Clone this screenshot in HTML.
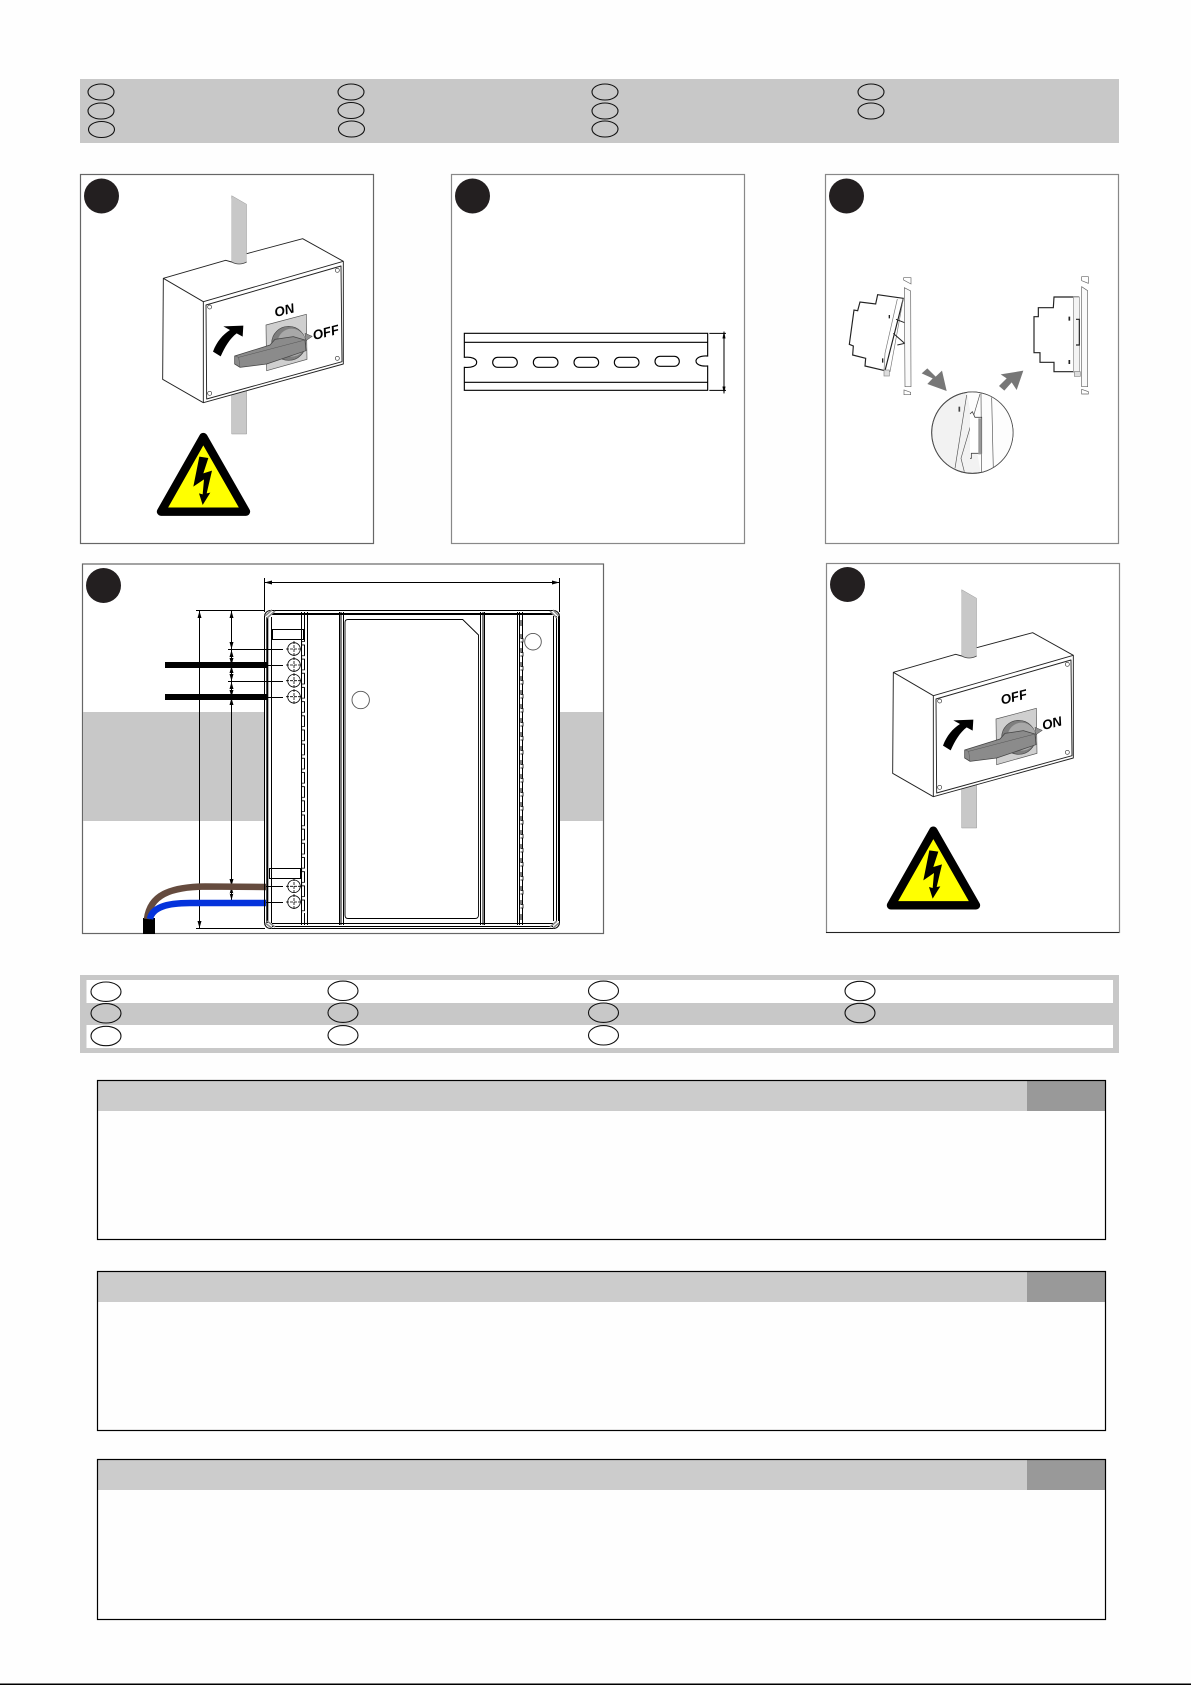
<!DOCTYPE html>
<html><head><meta charset="utf-8"><style>html,body{margin:0;padding:0;background:#fff}svg{display:block}</style></head><body>
<svg xmlns="http://www.w3.org/2000/svg" width="1191" height="1685" viewBox="0 0 1191 1685">
<defs>
<clipPath id="cc"><circle cx="487" cy="818" r="122"/></clipPath>
<pattern id="tl" patternUnits="userSpaceOnUse" x="300.5" y="641" width="5" height="14.17"><path d="M4.5 .5H1.2V4H4.5" fill="#fff" stroke="#000" stroke-width=".8"/></pattern>
<pattern id="tr" patternUnits="userSpaceOnUse" x="520" y="638" width="5" height="14"><path d="M.5 .5H3V4H.5" fill="#fff" stroke="#000" stroke-width=".8"/></pattern>
<g id="box">
<path d="M515 407L560 433V612H515Z" fill="#c8c8c8" stroke="#999" stroke-width="1.5"/>
<path d="M515 970H560V1122H515Z" fill="#c8c8c8" stroke="#999" stroke-width="1.5"/>
<path d="M310 655L497 601 515 606Q537 618 560 606V581L728 536 850 604V912L430 1028 308 958Z" fill="#fff"/>
<path d="M515 415V606H560V433Z" fill="#c8c8c8"/>
<path d="M515 606Q537 618 560 606" fill="#c8c8c8" stroke="#444" stroke-width="2.4"/>
<g fill="none" stroke="#222" stroke-width="2.8" stroke-linejoin="round">
<path d="M310 655L497 601 515 606M560 581L728 536 850 604V912L430 1028 308 958 310 655 430 725V1028"/>
<path d="M430 725L850 604M438 735L843 618 846 905 440 1017Z"/>
</g>
<g fill="#fff" stroke="#333" stroke-width="2"><circle cx="449" cy="741" r="6"/><circle cx="832" cy="631" r="6"/><circle cx="832" cy="895" r="6"/><circle cx="449" cy="1000" r="6"/></g>
<path d="M459 875C470 845 488 824 510 810L490 799 550 797 548 830 530 820C510 835 495 860 482 889Z" fill="#000"/>
<path d="M618 795L739 763 741 898 620 932Z" fill="#cfcfcf" stroke="#555" stroke-width="2"/>
<path d="M735 820L757 829 738 842Z" fill="#8f8f8f" stroke="#444" stroke-width="1.5"/>
<circle cx="686" cy="850" r="51" fill="#7e7e7e" stroke="#444" stroke-width="2"/>
<circle cx="695" cy="848" r="42" fill="#a8a8a8"/>
<path d="M524 888L630 855 645 838 700 830 735 840 738 872 620 912 540 922 524 912Z" fill="#8b8b8b" stroke="#444" stroke-width="2.2"/>
<path d="M524 888L536 892 540 922M536 892L735 840" fill="none" stroke="#555" stroke-width="1.5"/>
</g>
<g id="warn">
<path d="M430 1131L303 1355H558Z" fill="#ff0" stroke="#000" stroke-width="25" stroke-linejoin="round"/>
<path d="M418 1190L445 1194 430 1240 456 1232 440 1300 451 1298 428 1335 417 1300 428 1303 432 1258 400 1280Z" fill="#000"/>
</g>
</defs>
<rect width="1191" height="1685" fill="#fefefe"/>

<!-- top legend -->
<rect x="80" y="79" width="1039" height="64" fill="#c8c8c8"/>
<g fill="none" stroke="#111" stroke-width="1.1">
<ellipse cx="101" cy="92" rx="13" ry="8"/><ellipse cx="101" cy="111" rx="13" ry="8"/><ellipse cx="101.5" cy="129.5" rx="13" ry="8"/>
<ellipse cx="351" cy="92" rx="13" ry="8"/><ellipse cx="351" cy="110.5" rx="13" ry="8"/><ellipse cx="351.5" cy="129" rx="13" ry="8"/>
<ellipse cx="605" cy="92" rx="13" ry="8"/><ellipse cx="605" cy="111" rx="13" ry="8"/><ellipse cx="605" cy="129" rx="13" ry="8"/>
<ellipse cx="871" cy="92" rx="13" ry="8"/><ellipse cx="871" cy="111" rx="13" ry="8"/>
</g>

<!-- panels -->
<rect x="80.5" y="174.5" width="293" height="369" fill="#fff" stroke="#666" stroke-width="1.2"/>
<rect x="451.5" y="174.5" width="293" height="369" fill="#fff" stroke="#888" stroke-width="1.2"/>
<rect x="825.5" y="174.5" width="293" height="369" fill="#fff" stroke="#888" stroke-width="1.2"/>
<rect x="82.5" y="564" width="521" height="369.5" fill="#fff" stroke="#666" stroke-width="1.2"/>
<rect x="826.5" y="563.5" width="293" height="369" fill="#fff" stroke="#888" stroke-width="1.2"/>
<path d="M826 932.5H1119" stroke="#222" stroke-width="1"/>
<g fill="#231f20"><circle cx="101.5" cy="196" r="17.5"/><circle cx="472.5" cy="196" r="17.5"/><circle cx="846.5" cy="196" r="17.5"/><circle cx="103.5" cy="585.5" r="17.5"/><circle cx="847.5" cy="584.5" r="17.5"/></g>

<!-- panel 1 -->
<g transform="translate(60 60) scale(.33333)">
<use href="#box"/><use href="#warn"/>
<text x="647" y="771" transform="rotate(-14 647 771)" font-family="Liberation Sans, sans-serif" font-size="40" font-weight="bold" font-style="italic" fill="#000">ON</text>
<text x="762" y="840" transform="rotate(-14 762 840)" font-family="Liberation Sans, sans-serif" font-size="40" font-weight="bold" font-style="italic" fill="#000">OFF</text>
</g>

<!-- panel 5 -->
<g transform="translate(790 454) scale(.33333)">
<use href="#box"/><use href="#warn" y="-1"/>
<text x="636" y="752" transform="rotate(-14 636 752)" font-family="Liberation Sans, sans-serif" font-size="40" font-weight="bold" font-style="italic" fill="#000">OFF</text>
<text x="760" y="828" transform="rotate(-14 760 828)" font-family="Liberation Sans, sans-serif" font-size="40" font-weight="bold" font-style="italic" fill="#000">ON</text>
</g>

<!-- panel 2 rail -->
<g transform="translate(440 160) scale(.33333)" fill="none" stroke="#000" stroke-width="3.4">
<path d="M73 520H803V588C780 586 768 595 768 603C768 612 780 620 803 618V691H73V622C95 624 110 618 110 607C110 596 95 590 73 592Z"/>
<path d="M73 547H803M73 667H803"/>
<rect x="158" y="592" width="74" height="30" rx="15"/><rect x="280" y="592" width="74" height="30" rx="15"/><rect x="402" y="592" width="74" height="30" rx="15"/><rect x="523" y="592" width="74" height="30" rx="15"/><rect x="645" y="589" width="73" height="30" rx="15"/>
<path d="M808 520H858M808 691H858M852 515V700" stroke-width="3"/>
<path d="M852 515L848 535H856ZM852 700L848 680H856Z" fill="#000" stroke-width="1"/>
</g>

<!-- panel 3 -->
<g transform="translate(810 160) scale(.33333)" fill="none" stroke="#222" stroke-width="3">
<path d="M203 404L280 415 225 632 165 618 167 595 128 585 130 558 118 553 132 450 143 452 150 426 197 432Z" fill="#fff" stroke-width="3.5"/>
<path d="M262 417L225 580 222 632M280 415L240 635H225" stroke="#777" stroke-width="2"/>
<path d="M258 478L284 488M250 520L284 550 262 555" stroke-width="3"/>
<rect x="222" y="630" width="16" height="18" fill="#ddd" stroke="#888" stroke-width="2"/>
<path d="M238 465V475M218 595V608" stroke-width="4"/>
<path d="M283 383L302 393 303 680 285 680Z" stroke="#666" stroke-width="2" fill="#fafafa"/>
<path d="M281 353H303V372L281 360ZM282 690L302 697V704H282Z" stroke="#666" stroke-width="2" fill="#fff"/>
<path d="M732 411H805V635H732V607H690V578H672V470H685V443H730Z" fill="#fff" stroke-width="3.5"/>
<path d="M790 411V635H808V411Z" stroke="#888" stroke-width="2" fill="#f4f4f4"/>
<path d="M798 478H808V555H798" stroke-width="3.5"/>
<path d="M778 470V482M778 600V612" stroke-width="5"/>
<rect x="793" y="635" width="18" height="14" fill="#ddd" stroke="#888" stroke-width="2"/>
<path d="M815 380L833 392V680H815Z" stroke="#666" stroke-width="2" fill="#fafafa"/>
<path d="M815 350H835V370L815 362ZM815 688L835 695V702H815Z" stroke="#666" stroke-width="2" fill="#fff"/>
<path d="M335 640L352 625 377 650 396 632 410 693 352 672 368 655Z" fill="#777" stroke="none"/>
<path d="M640 632L620 690 605 667 583 692 567 678 590 655 572 643Z" fill="#777" stroke="none"/>
<circle cx="487" cy="818" r="122" fill="#f2f2f2"/>
<g clip-path="url(#cc)">
<path d="M470 690H620V950H514Z" fill="#fdfdfd" stroke="none"/>
<path d="M470 705L435 925M510 702L453 895 463 935M513 700L515 940M545 712L550 930" stroke="#555" stroke-width="2"/>
<path d="M480 762L487 755 495 772H515V880H484V895H480" stroke="#444" stroke-width="2.5" fill="#fff"/>
<rect x="505" y="775" width="10" height="108" fill="#999" stroke="none"/>
</g>
<circle cx="487" cy="818" r="122" stroke="#555" stroke-width="2"/>
<path d="M448 740V755" stroke="#444" stroke-width="5"/>
</g>

<!-- panel 4 -->
<rect x="83" y="712" width="181" height="109" fill="#c8c8c8"/>
<rect x="559.5" y="712" width="43.5" height="109" fill="#c8c8c8"/>
<g fill="none" stroke="#000" stroke-width="1">
<path d="M264.5 578V612M559.5 578V612M264.5 582.5H559.5"/>
<path d="M196 610.5H265M196 928.5H265M199.5 610V929M231.5 610V900"/>
<path d="M228 649.5H283M228 681.5H283M266 665.5H283M266 697.5H283M266 886.5H283M266 902.5H283"/>
</g>
<g fill="#000">
<path d="M264.5 582.5L272 580.5V584.5ZM559.5 582.5L552 580.5V584.5Z"/>
<path d="M199.5 611L197.5 618H201.5ZM199.5 928L197.5 921H201.5Z"/>
<path d="M231.5 611L229.5 618H233.5ZM231.5 649L229.5 642H233.5ZM231.5 650L229.5 657H233.5ZM231.5 665L229.5 658H233.5ZM231.5 666L229.5 673H233.5ZM231.5 681L229.5 674H233.5ZM231.5 682L229.5 689H233.5ZM231.5 697L229.5 690H233.5ZM231.5 698L229.5 705H233.5ZM231.5 886L229.5 879H233.5ZM231.5 887L229.5 894H233.5ZM231.5 900L229.5 893H233.5Z"/>
<rect x="165" y="662" width="102" height="6"/><rect x="165" y="694" width="102" height="6"/>
<rect x="143" y="918" width="12" height="16"/>
</g>
<path d="M266 887L205 886.5C170 887 150 895 147 919" fill="none" stroke="#654b3e" stroke-width="6.5"/>
<path d="M266 903L190 903C165 903 152 908 150 919" fill="none" stroke="#0433dc" stroke-width="6.5"/>
<g fill="none" stroke="#000" stroke-width="1">
<rect x="264.5" y="610.5" width="295" height="318" rx="6"/>
<path d="M267.3 617V923" stroke-width="2"/><path d="M271.5 617V923"/>
<path d="M272 610.5H553M272 613.5H553M272 614.5H553M272 923.5H553M272 926.5H553"/>
<path d="M301.5 612V925M304.5 612V925M307.5 612V925M339.5 612V925M341 612V925M343.5 612V925"/>
<path d="M480.5 612V925M483 612V925M484.5 612V925M517.5 612V925M519.5 612V925M522.5 612V925"/>
<path d="M553.5 616V921M556.5 616V921M558.5 616V921"/>
<path d="M348 619.5H462.7L478.5 635V915Q478.5 918.5 475 918.5H348Q345 918.5 345 915V622.5Q345 619.5 348 619.5Z" stroke-width=".9"/>
<rect x="272.5" y="629.5" width="31" height="10"/><rect x="269.5" y="868.5" width="31" height="10"/>
<g stroke-width=".8"><circle cx="294" cy="649" r="6.3"/><circle cx="294" cy="665" r="6.3"/><circle cx="294" cy="680.7" r="6.3"/><circle cx="294" cy="696.7" r="6.3"/><circle cx="294" cy="886.3" r="6.3"/><circle cx="294" cy="902" r="6.3"/>
<path d="M294 641V657M286 649H302M294 657V673M286 665H302M294 673V689M286 680.7H302M294 689V705M286 696.7H302M294 878V894M286 886.3H302M294 894V910M286 902H302" stroke-dasharray="3 1"/></g>
<circle cx="360.7" cy="700" r="8.7" stroke="#555" stroke-width=".9"/><circle cx="533" cy="641.7" r="8.3" stroke="#555" stroke-width=".9"/>
<path d="M521 620V925" stroke-dasharray="6 8"/>
</g>
<rect x="300.5" y="641" width="5" height="272" fill="url(#tl)"/>
<rect x="520" y="638" width="5" height="272" fill="url(#tr)"/>
<g fill="none" stroke="#888" stroke-width="1.5"><path d="M265 616L272 610M267 618L275 611M265 923L272 928M267 921L275 927M559 616L553 610M557 618L550 611M559 923L553 928M557 921L550 927"/></g>

<!-- bottom legend -->
<rect x="80" y="975" width="1039" height="78" fill="#c8c8c8"/>
<rect x="86.5" y="980" width="1026.5" height="23" fill="#fff"/>
<rect x="86.5" y="1025" width="1026.5" height="23" fill="#fff"/>
<g fill="none" stroke="#111" stroke-width="1.1">
<ellipse cx="106" cy="991.7" rx="15" ry="9.7"/><ellipse cx="106" cy="1013.3" rx="15" ry="9.7"/><ellipse cx="106" cy="1036" rx="15" ry="9.7"/>
<ellipse cx="343" cy="990.8" rx="15" ry="9.7"/><ellipse cx="343" cy="1012.7" rx="15" ry="9.7"/><ellipse cx="343" cy="1035.3" rx="15" ry="9.7"/>
<ellipse cx="603.5" cy="990.8" rx="15" ry="9.7"/><ellipse cx="603.5" cy="1012.7" rx="15" ry="9.7"/><ellipse cx="603.5" cy="1035.3" rx="15" ry="9.7"/>
<ellipse cx="860" cy="991" rx="15" ry="9.7"/><ellipse cx="860" cy="1013" rx="15" ry="9.7"/>
</g>

<!-- sections -->
<g>
<rect x="97.5" y="1080.5" width="1008" height="30.5" fill="#ccc"/><rect x="1027" y="1080.5" width="78.5" height="30.5" fill="#999"/>
<rect x="97.5" y="1080.5" width="1008" height="159" fill="none" stroke="#000" stroke-width="1.2"/>
<rect x="97.5" y="1271.5" width="1008" height="30.5" fill="#ccc"/><rect x="1027" y="1271.5" width="78.5" height="30.5" fill="#999"/>
<rect x="97.5" y="1271.5" width="1008" height="159" fill="none" stroke="#000" stroke-width="1.2"/>
<rect x="97.5" y="1459.5" width="1008" height="30.5" fill="#ccc"/><rect x="1027" y="1459.5" width="78.5" height="30.5" fill="#999"/>
<rect x="97.5" y="1459.5" width="1008" height="160" fill="none" stroke="#000" stroke-width="1.2"/>
</g>
<rect x="0" y="1683.5" width="1191" height="1.5" fill="#000"/>
</svg>
</body></html>
